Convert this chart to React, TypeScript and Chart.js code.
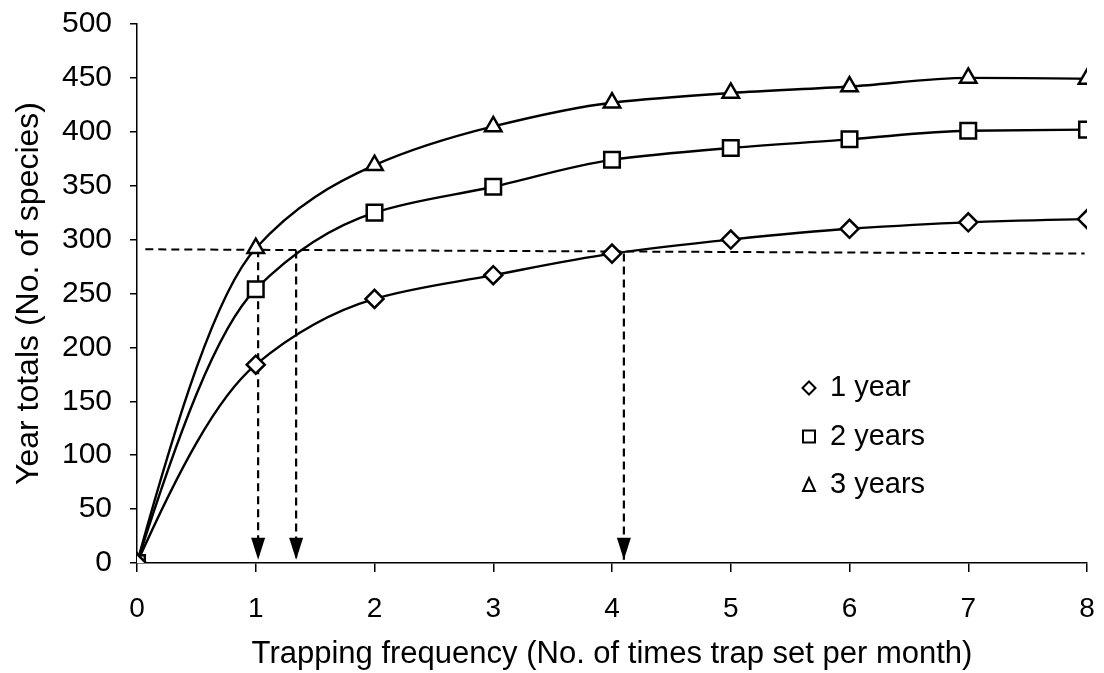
import React, { useEffect, useRef } from 'react';
import { Chart, registerables } from 'chart.js';

Chart.register(...registerables);

// ---- data ----
const frequencies = [0, 1, 2, 3, 4, 5, 6, 7, 8];
const oneYear = [0, 184, 245, 267, 287, 300, 310, 316, 319];
const twoYears = [0, 254, 325, 349, 374, 385, 393, 401, 402];
const threeYears = [0, 292, 369, 405, 427, 436, 442, 450, 449];
const seriesLabels = ['1 year', '2 years', '3 years'];
const seriesMarkers = ['rectRot', 'rect', 'triangle'];
const markerRadii = [9, 11, 9.5];

// dashed guide lines and arrows
const guideX = [0.07, 7.98];
const guideY = [291, 287];
const arrowX = [1.02, 1.34, 4.1];
const arrowFromY = [291, 290, 287];
const arrowTipY = 3;

const xTitle = 'Trapping frequency (No. of times trap set per month)';
const yTitle = 'Year totals (No. of species)';

const FONT = '"Liberation Sans", Arial, sans-serif';

// Shape-preserving (PCHIP) tangents for the smoothed series curves
function pchipEnd(h0: number, h1: number, d0: number, d1: number) {
  let m = ((2 * h0 + h1) * d0 - h0 * d1) / (h0 + h1);
  if (Math.sign(m) !== Math.sign(d0)) m = 0;
  else if (Math.sign(d0) !== Math.sign(d1) && Math.abs(m) > Math.abs(3 * d0)) m = 3 * d0;
  return m;
}

const pchipPlugin = {
  id: 'pchipSmooth',
  beforeDatasetDraw(chart: any, args: any) {
    const ds = chart.data.datasets[args.index];
    if (!ds.pchip) return;
    const meta = args.meta;
    const line = meta.dataset;
    if (!line) return;
    line.updateControlPoints(chart.chartArea, meta.iScale.axis);
    const pts = meta.data;
    const n = pts.length;
    if (n < 3) return;
    const h: number[] = [];
    const d: number[] = [];
    for (let i = 0; i < n - 1; i++) {
      h.push(pts[i + 1].x - pts[i].x);
      d.push((pts[i + 1].y - pts[i].y) / h[i]);
    }
    const m: number[] = new Array(n).fill(0);
    for (let i = 1; i < n - 1; i++) {
      if (d[i - 1] * d[i] <= 0) {
        m[i] = 0;
      } else {
        const w1 = 2 * h[i] + h[i - 1];
        const w2 = h[i] + 2 * h[i - 1];
        m[i] = (w1 + w2) / (w1 / d[i - 1] + w2 / d[i]);
      }
    }
    m[0] = pchipEnd(h[0], h[1], d[0], d[1]);
    m[n - 1] = pchipEnd(h[n - 2], h[n - 3], d[n - 2], d[n - 3]);
    for (let i = 0; i < n; i++) {
      const p = pts[i];
      if (i > 0) {
        const hp = h[i - 1] / 3;
        p.cp1x = p.x - hp;
        p.cp1y = p.y - m[i] * hp;
      }
      if (i < n - 1) {
        const hn = h[i] / 3;
        p.cp2x = p.x + hn;
        p.cp2y = p.y + m[i] * hn;
      }
    }
  },
};

const arrowHeadPlugin = {
  id: 'arrowHeads',
  afterDatasetsDraw(chart: any) {
    const { ctx, scales } = chart;
    const tip = scales.y.getPixelForValue(arrowTipY);
    ctx.save();
    ctx.fillStyle = '#000';
    arrowX.forEach((v) => {
      const px = scales.x.getPixelForValue(v);
      ctx.beginPath();
      ctx.moveTo(px, tip);
      ctx.lineTo(px - 7, tip - 22);
      ctx.lineTo(px + 7, tip - 22);
      ctx.closePath();
      ctx.fill();
    });
    ctx.restore();
  },
};

function drawMarker(ctx: CanvasRenderingContext2D, style: string, x: number, y: number) {
  ctx.beginPath();
  if (style === 'rectRot') {
    const r = 6.5;
    ctx.moveTo(x - r, y);
    ctx.lineTo(x, y - r);
    ctx.lineTo(x + r, y);
    ctx.lineTo(x, y + r);
    ctx.closePath();
  } else if (style === 'rect') {
    const h = 6;
    ctx.rect(x - h, y - h, 2 * h, 2 * h);
  } else {
    const h = 6;
    ctx.moveTo(x, y - h - 1);
    ctx.lineTo(x + h, y + h);
    ctx.lineTo(x - h, y + h);
    ctx.closePath();
  }
  ctx.fillStyle = '#fff';
  ctx.fill();
  ctx.stroke();
}

const legendPlugin = {
  id: 'insideLegend',
  afterDraw(chart: any) {
    const { ctx, chartArea } = chart;
    const markerX = chartArea.right - 278;
    const textX = chartArea.right - 257;
    const rowY0 = chartArea.top + 364;
    const rowGap = 48.5;
    ctx.save();
    ctx.strokeStyle = '#000';
    ctx.lineWidth = 2;
    ctx.font = `29px ${FONT}`;
    ctx.textBaseline = 'middle';
    ctx.textAlign = 'left';
    seriesLabels.forEach((label, i) => {
      const y = rowY0 + i * rowGap;
      drawMarker(ctx, seriesMarkers[i], markerX, y);
      ctx.fillStyle = '#000';
      ctx.fillText(label, textX, y);
    });
    ctx.restore();
  },
};

export default function App() {
  const canvasRef = useRef<HTMLCanvasElement | null>(null);

  useEffect(() => {
    document.body.style.margin = '0';
    const canvas = canvasRef.current;
    if (!canvas) return;

    const toPoints = (vals: number[]) => frequencies.map((f, i) => ({ x: f, y: vals[i] }));
    const seriesValues = [oneYear, twoYears, threeYears];

    const seriesDatasets = seriesValues.map((vals, i) => ({
      label: seriesLabels[i],
      data: toPoints(vals),
      borderColor: '#000',
      borderWidth: 2.4,
      cubicInterpolationMode: 'monotone',
      tension: 0.4,
      pointStyle: seriesMarkers[i],
      pointRadius: markerRadii[i],
      pointBackgroundColor: '#fff',
      pointBorderColor: '#000',
      pointBorderWidth: 2.5,
      fill: false,
      order: 0,
      pchip: true,
    }));

    const guideDataset = {
      label: 'guide',
      data: guideX.map((x, i) => ({ x, y: guideY[i] })),
      borderColor: '#000',
      borderWidth: 2,
      borderDash: [8, 5],
      pointRadius: 0,
      tension: 0,
      fill: false,
      order: 10,
    };

    const arrowDatasets = arrowX.map((x, i) => ({
      label: 'arrow' + i,
      data: [
        { x, y: arrowFromY[i] },
        { x, y: arrowTipY },
      ],
      borderColor: '#000',
      borderWidth: 2.2,
      borderDash: [8, 5],
      pointRadius: 0,
      tension: 0,
      fill: false,
      order: 10,
    }));

    const chart = new Chart(canvas, {
      type: 'line',
      data: { datasets: [...seriesDatasets, guideDataset, ...arrowDatasets] as any },
      options: {
        responsive: false,
        animation: false,
        devicePixelRatio: 1,
        layout: { padding: { left: 0, right: 17, top: 24, bottom: 0 } },
        plugins: {
          legend: { display: false },
          tooltip: { enabled: false },
        },
        scales: {
          x: {
            type: 'linear',
            min: 0,
            max: 8,
            ticks: {
              stepSize: 1,
              color: '#000',
              font: { family: FONT, size: 28 },
              padding: 20,
            },
            grid: {
              drawOnChartArea: false,
              drawTicks: true,
              tickLength: 9,
              color: '#000',
              lineWidth: 1.5,
            },
            border: { display: true, color: '#000', width: 1.5 },
            title: {
              display: true,
              text: xTitle,
              color: '#000',
              font: { family: FONT, size: 31 },
              padding: { top: 0, bottom: 0 },
            },
            afterFit: (s: any) => {
              s.height = 110;
              s.paddingLeft = 0;
              s.paddingRight = 0;
            },
          },
          y: {
            type: 'linear',
            min: 0,
            max: 500,
            ticks: {
              stepSize: 50,
              color: '#000',
              font: { family: FONT, size: 30 },
              padding: 18,
            },
            grid: {
              drawOnChartArea: false,
              drawTicks: true,
              tickLength: 7,
              color: '#000',
              lineWidth: 1.5,
            },
            border: { display: true, color: '#000', width: 1.5 },
            title: {
              display: true,
              text: yTitle,
              color: '#000',
              font: { family: FONT, size: 32 },
              padding: { top: 10, bottom: 0 },
            },
            afterFit: (s: any) => {
              s.width = 137;
              s.paddingTop = 0;
              s.paddingBottom = 0;
            },
          },
        },
      } as any,
      plugins: [pchipPlugin, arrowHeadPlugin, legendPlugin],
    });

    return () => {
      chart.destroy();
    };
  }, []);

  return (
    <div style={{ width: 1104, height: 673, position: 'relative', background: '#fff' }}>
      <canvas ref={canvasRef} width={1104} height={673} />
    </div>
  );
}
